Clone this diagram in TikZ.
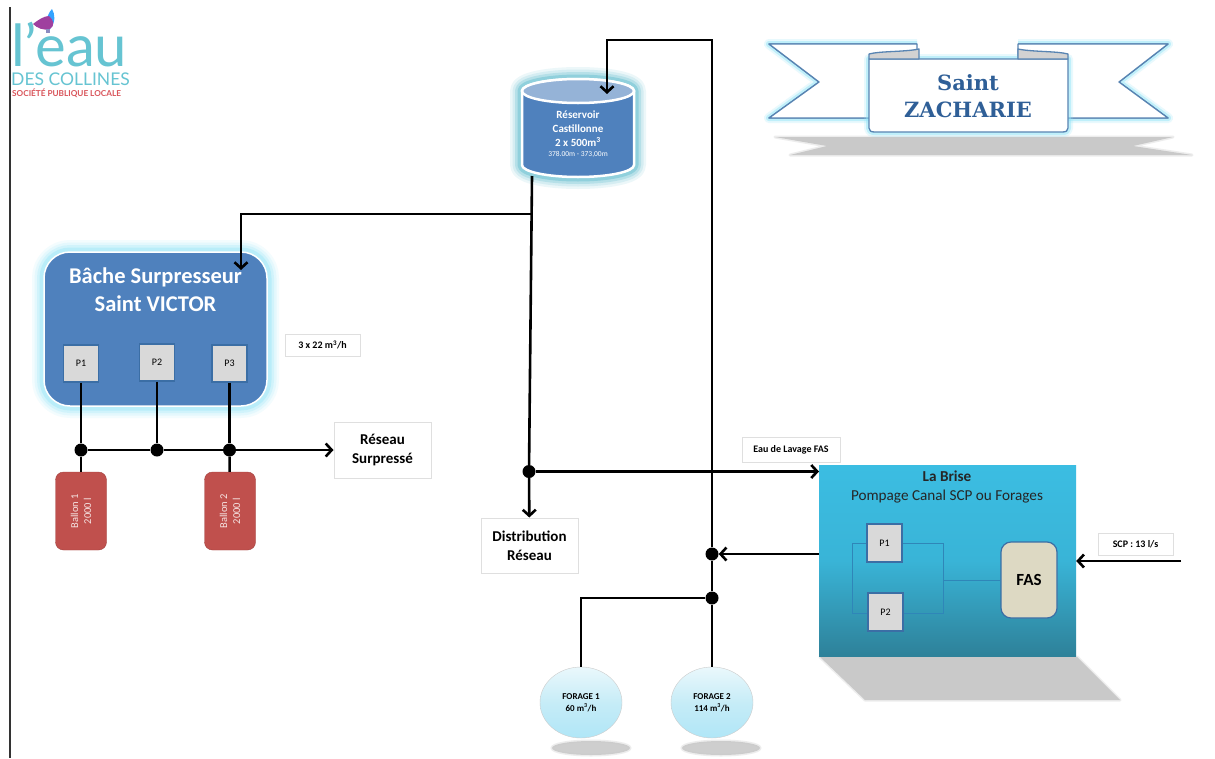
\documentclass[tikz,border=0pt]{standalone}
\usepackage{fontspec}
\setmainfont{Carlito}
\newfontfamily\logofont{Lato}
\newfontfamily\titlefont{DejaVu Serif}
\usepackage{tikz}
\usetikzlibrary{shapes.geometric,arrows.meta}
\definecolor{bluebox}{HTML}{4F81BD}
\definecolor{bluetop}{HTML}{95B3D7}
\definecolor{bluetitle}{HTML}{2F5F97}
\definecolor{glowsky}{HTML}{8FE3F7}
\definecolor{glowteal}{HTML}{4BB4C8}
\definecolor{redbox}{HTML}{C0504D}
\definecolor{graybox}{HTML}{D9D9D9}
\definecolor{sandbox}{HTML}{DDD9C3}
\definecolor{briselight}{HTML}{3BBDE2}
\definecolor{brisedark}{HTML}{2E8199}
\definecolor{logoteal}{HTML}{66C4D2}
\definecolor{logored}{HTML}{D9545A}
\definecolor{edgeblue}{HTML}{3B6EA5}
\definecolor{looplink}{HTML}{2F86B8}
\definecolor{welltop}{HTML}{EAF8FC}
\definecolor{wellmid}{HTML}{C6ECF7}
\definecolor{wellbot}{HTML}{B0E6F7}
\tikzset{
	glow/.style={preaction={draw=#1,line width=24pt,opacity=.1,line join=round},
		preaction={draw=#1,line width=19pt,opacity=.14,line join=round},
		preaction={draw=#1,line width=14pt,opacity=.22,line join=round},
		preaction={draw=#1,line width=9pt,opacity=.35,line join=round}},
	thinglow/.style={preaction={draw=#1,line width=10pt,opacity=.2,line join=round},
		preaction={draw=#1,line width=6pt,opacity=.45,line join=round}},
	softshadow/.style={preaction={draw=gray!45,line width=3pt,opacity=.3,line join=round},fill=gray!42},
	pipe/.style={line width=2.6pt,black},
	flow/.style={pipe,-{Straight Barb[length=6pt,width=13pt]}},
	junction/.style={circle,fill=black,inner sep=0pt,minimum size=13pt},
	pumpbox/.style={draw=edgeblue,line width=1.2pt,fill=graybox,inner sep=0pt,minimum width=35pt,minimum height=37pt,font=\fontsize{10}{12}\selectfont},
	balloon/.style={draw=redbox!85!black,fill=redbox,rounded corners=8pt,inner sep=0pt,minimum width=51pt,minimum height=78pt},
	tagbox/.style={draw=gray!25,line width=1pt,fill=white,inner sep=0pt,align=center},
	wellball/.style={ellipse,draw=gray!40,top color=welltop,bottom color=wellbot,middle color=wellmid,inner sep=0pt,minimum width=82pt,minimum height=71pt,align=center,font=\bfseries\fontsize{9}{12}\selectfont},
	banner/.style={draw=edgeblue!85,line width=1.3pt,fill=white,line join=round}
}
\begin{document}
\begin{tikzpicture}[x=1pt,y=-1pt]
	\useasboundingbox (0,0) rectangle (1215,758);
	\fill[white] (0,0) rectangle (1215,758);
	\draw[line width=1.6pt,black!80] (10,7) -- (10,758);

	% Logo
	\node[text=logoteal,anchor=base west,inner sep=0pt,font=\logofont\fontsize{58}{58}\selectfont] (logoA) at (11,66) {l’eau};
	\node[text=logoteal,anchor=base west,inner sep=0pt,font=\logofont\fontsize{17.5}{18}\selectfont] (logoB) at (11,85) {DES COLLINES};
	\node[text=logored,anchor=base west,inner sep=0pt,font=\logofont\bfseries\fontsize{8.2}{9}\selectfont] (logoC) at (12,96) {SOCIÉTÉ PUBLIQUE LOCALE};
	\fill[blue!45!cyan!80] (46,22) .. controls (47,17) and (49,12) .. (52,9) .. controls (55,14) and (56,22) .. (50,29) -- cycle;
	\fill[violet!75] (33,24) .. controls (38,20) and (44,16) .. (49,16) .. controls (54,20) and (55,26) .. (50,29) .. controls (44,31) and (37,28) .. (33,24) -- cycle;
	\fill[blue!30!gray!70] (46,29) rectangle (50,33);

	% Banner
	\fill[softshadow] (775,137) -- (1173,137) -- (1133,146) -- (1192,155) -- (790,155) -- (827,146) -- cycle;
	\path[banner,thinglow=glowsky] (917,44) -- (769,44) -- (819,82) -- (769,118) -- (869,118);
	\path[banner,thinglow=glowsky] (1018,44) -- (1168,44) -- (1119,82) -- (1168,118) -- (1068,118);
	\draw[banner] (917,44) -- (769,44) -- (819,82) -- (769,118) -- (875,118) -- (875,60) -- (917,60) -- cycle;
	\draw[banner] (1018,44) -- (1168,44) -- (1119,82) -- (1168,118) -- (1062,118) -- (1062,60) -- (1018,60) -- cycle;
	\path[banner,thinglow=glowsky] (869,59) -- (1068,59) -- (1068,128) .. controls (1068,131) and (1066,132) .. (1062,132) -- (875,132) .. controls (871,132) and (869,131) .. (869,128) -- cycle;
	\draw[banner,fill=gray!35] (869,59) -- (869,54) .. controls (880,51) and (905,52) .. (919,49) -- (919,59) -- cycle;
	\draw[banner,fill=gray!35] (1068,59) -- (1068,54) .. controls (1057,51) and (1032,52) .. (1018,49) -- (1018,59) -- cycle;
	\node[text=bluetitle,align=center,inner sep=0pt,font=\titlefont\bfseries\fontsize{21}{27}\selectfont] (zacharie) at (968,96) {Saint\\ZACHARIE};

	% Reservoir
	\path[draw=white,line width=2.5pt,fill=bluebox,glow=glowteal] (522,91) -- (522,165) arc [start angle=180,end angle=360,x radius=56pt,y radius=12pt] -- (634,91) arc [start angle=0,end angle=180,x radius=56pt,y radius=12pt] -- cycle;
	\draw[white,line width=2.5pt,fill=bluetop] (578,91) ellipse [x radius=56pt,y radius=12pt];
	\node[text=white,align=center,inner sep=0pt,font=\bfseries\fontsize{11}{14}\selectfont] (reservoir) at (578,129) {Réservoir\\Castillonne\\2 x 500m\textsuperscript{3}};
	\node[text=white,inner sep=0pt,font=\fontsize{7.5}{9}\selectfont] (cotes) at (578,154) {378.00m - 373,00m};
	\coordinate (resIn) at (607,94);
	\coordinate (resOut) at (532,176);
	\coordinate (resTee) at (531.5,214);
	\coordinate (topCorner) at (712,40);

	% Surpresseur
	\node[draw=white,line width=1.5pt,fill=bluebox,rounded corners=26pt,inner sep=0pt,minimum width=223pt,minimum height=154pt,glow=glowsky] (bache) at (155.5,329) {};
	\node[text=white,align=center,inner sep=0pt,font=\bfseries\fontsize{22.5}{28}\selectfont] (bacheName) at (155.5,290) {Bâche Surpresseur\\Saint VICTOR};
	\coordinate (bacheIn) at (241,270);
	\node[pumpbox] (P1) at (81,363.5) {P1};
	\node[pumpbox] (P2) at (157,362.5) {P2};
	\node[pumpbox] (P3) at (229.5,363.5) {P3};
	\node[tagbox,minimum width=75pt,minimum height=22pt,font=\bfseries\fontsize{10}{12}\selectfont] (debit) at (322.5,345) {3 x 22 m\textsuperscript{3}/h};
	\node[junction] (J1) at (81,450) {};
	\node[junction] (J2) at (157,450) {};
	\node[junction] (J3) at (229.5,450) {};
	\node[balloon] (B1) at (81,511) {};
	\node[balloon] (B2) at (230,511) {};
	\node[rotate=90,text=white!85!redbox,align=center,inner sep=0pt,font=\fontsize{10.5}{13}\selectfont] (B1txt) at (81,511) {Ballon 1\\2000 l};
	\node[rotate=90,text=white!85!redbox,align=center,inner sep=0pt,font=\fontsize{10.5}{13}\selectfont] (B2txt) at (230,511) {Ballon 2\\2000 l};
	\node[tagbox,minimum width=97pt,minimum height=56pt,font=\bfseries\fontsize{15}{19}\selectfont] (surpresse) at (382.5,450) {Réseau\\Surpressé};

	% La Brise
	\fill[softshadow] (820,657) -- (1077,657) -- (1120,700) -- (865,700) -- cycle;
	\node[draw=none,top color=briselight,bottom color=brisedark,middle color=briselight!85!brisedark,inner sep=0pt,minimum width=257pt,minimum height=191pt] (brise) at (947.5,560.5) {};
	\node[align=center,inner sep=0pt,text=black!85,font=\fontsize{15.2}{19}\selectfont] (briseName) at (947,486.5) {\textbf{La Brise}\\Pompage Canal SCP ou Forages};
	\coordinate (loopR) at (943,580);
	\coordinate (loopTL) at (852,543);
	\coordinate (loopBR) at (943,613);
	\draw[looplink,line width=.8pt] (loopTL) rectangle (loopBR);
	\node[pumpbox,minimum height=38pt] (BP1) at (884.5,543) {P1};
	\node[pumpbox,minimum height=38pt] (BP2) at (885.5,612) {P2};
	\node[draw=edgeblue,line width=1.2pt,fill=sandbox,rounded corners=10pt,inner sep=0pt,minimum width=56pt,minimum height=76pt,font=\bfseries\fontsize{17}{20}\selectfont] (fas) at (1029,580) {FAS};
	\draw[looplink,line width=.8pt] (loopR) -- (fas);
	\node[tagbox,minimum width=98pt,minimum height=25pt,font=\bfseries\fontsize{10}{12}\selectfont] (lavage) at (791,449.5) {Eau de Lavage FAS};
	\node[tagbox,minimum width=75pt,minimum height=22pt,font=\bfseries\fontsize{10}{12}\selectfont] (scp) at (1135.5,544) {SCP : 13 l/s};
	\coordinate (scpIn) at (1181,561);
	\coordinate (briseOut) at (819,554);
	\coordinate (briseIn) at (819,471.5);

	% Distribution and wells
	\node[junction] (J4) at (529,471.5) {};
	\node[junction] (J5) at (712,554) {};
	\node[junction] (J6) at (712,598) {};
	\node[tagbox,minimum width=97pt,minimum height=55pt,font=\bfseries\fontsize{15}{19}\selectfont] (distribution) at (529.5,545.5) {Distribution\\Réseau};
	\fill[softshadow,opacity=.9] (591,748) ellipse [x radius=39pt,y radius=7pt];
	\fill[softshadow,opacity=.9] (721,748) ellipse [x radius=39pt,y radius=7pt];
	\node[wellball] (F1) at (581,702.5) {FORAGE 1\\60 m\textsuperscript{3}/h};
	\node[wellball] (F2) at (712,702.5) {FORAGE 2\\114 m\textsuperscript{3}/h};

	% Pipes
	\draw[flow,line join=miter] (F2) -- (J6) -- (J5) -- (topCorner) -- (topCorner -| resIn) -- (resIn);
	\draw[pipe] (F1) |- (J6);
	\draw[pipe] (resOut) -- (J4);
	\draw[flow] (resTee) -| (bacheIn);
	\draw[flow] (J4) -- (briseIn);
	\draw[flow] (J4) -- (distribution);
	\draw[flow] (briseOut) -- (J5);
	\draw[flow] (scpIn) -- (brise.east |- scpIn);
	\draw[pipe] (P1) -- (J1);
	\draw[pipe] (P2) -- (J2);
	\draw[pipe] (P3) -- (J3);
	\draw[pipe] (J1) -- (B1);
	\draw[pipe] (J3) -- (B2);
	\draw[flow] (J1) -- (J2) -- (J3) -- (surpresse);
\end{tikzpicture}
\end{document}
